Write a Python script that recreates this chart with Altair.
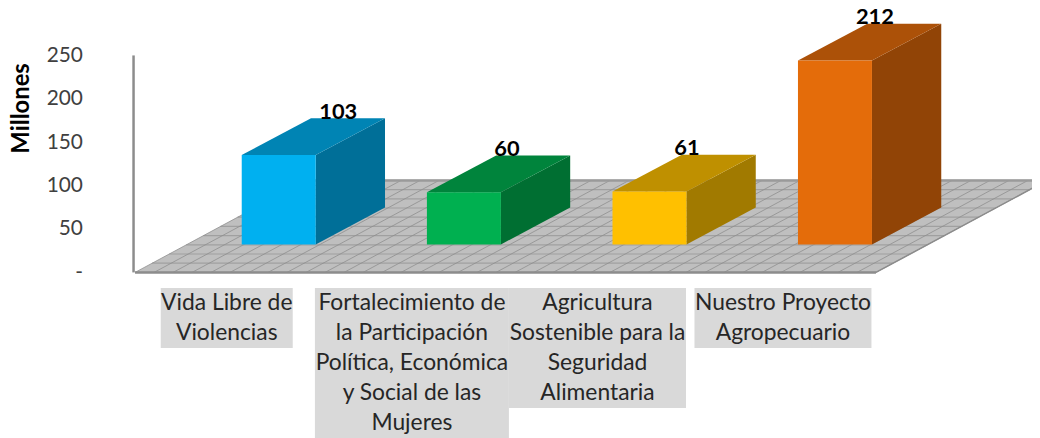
import altair as alt
import pandas as pd

# ---- values
categories = [
    ["Vida Libre de", "Violencias"],
    ["Fortalecimiento de", "la Participación", "Política, Económica", "y Social de las", "Mujeres"],
    ["Agricultura", "Sostenible para la", "Seguridad", "Alimentaria"],
    ["Nuestro Proyecto", "Agropecuario"],
]
values = [103, 60, 61, 212]
front_colors = ["#00b0f0", "#00b050", "#ffc000", "#e46c0a"]
top_colors = ["#0084b4", "#00843c", "#bf9000", "#ac5108"]
side_colors = ["#006f98", "#006f32", "#a17a00", "#914406"]
y_ticks = [0, 50, 100, 150, 200, 250]

# ---- layout of the pseudo-3D box, in scale units (x: px, y: value units)
PX = 0.868                    # pixels per value unit
FONT = "Lato"
S = 1040 / 1048               # the page is fitted to the window with this factor
LEFT = 125
TOP = 6
WIDTH = 907
HEIGHT = 428
YSHIFT = 1.3                  # fine vertical adjustment, pixels
X0, X1 = S * (8 + LEFT), S * (8 + LEFT + WIDTH)
BASE = 28 / PX                # bars stand on the floor, this far above the front edge
FLOOR_DEPTH = 92 / PX
DX, DY = 69.3, 36.8 / PX      # depth of a bar
SLOPE = 171 / FLOOR_DEPTH     # x shift of the floor per value unit
BAR_W = 74
lefts = [241.7, 426.9, 612.5, 798]
label_half = [66, 97, 88.5, 88.5]
value_offset = [96.5, 80, 74.5, 77]
y_of = lambda py: (272 - py) / PX

x_s = alt.Scale(domain=[X0, X1], nice=False, zero=False)
y_s = alt.Scale(domain=[y_of(S * (8 + TOP + HEIGHT) + YSHIFT), y_of(S * (8 + TOP) + YSHIFT)],
                nice=False, zero=False)
y_axis = alt.Axis(
    values=y_ticks, title="Millones", domain=False, ticks=False, grid=False,
    labelFont=FONT, labelFontSize=21, labelColor="#404040", labelPadding=50,
    labelExpr="datum.value === 0 ? '-\u00a0\u00a0\u00a0' : datum.label",
    titleFont=FONT, titleFontSize=24, titleFontWeight="bold", titleColor="#000000",
    titleX=-99, titleY=93)
X = lambda f: alt.X(f, type="quantitative", scale=x_s, axis=None)
Y = lambda f: alt.Y(f, type="quantitative", scale=y_s, axis=y_axis)

# floor
floor = pd.DataFrame({"y": [0, FLOOR_DEPTH],
                      "x": [135, 135 + SLOPE * FLOOR_DEPTH],
                      "x2": [876, 876 + SLOPE * FLOOR_DEPTH]})
floor_l = alt.Chart(floor).mark_area(orient="horizontal", color="#bfbfbf", clip=True).encode(
    x=X("x"), x2="x2", y=Y("y"))

h_rows = []
for k in range(0, 11):
    v = FLOOR_DEPTH * k / 10
    h_rows.append({"x": 135 + SLOPE * v, "x2": 876 + SLOPE * v, "y": v, "y2": v})
h_lines = alt.Chart(pd.DataFrame(h_rows)).mark_rule(color="#a0a0a0", strokeWidth=1.2, clip=True).encode(
    x=X("x"), x2="x2", y=Y("y"), y2="y2")

s_rows = []
for k in range(0, 40):
    x = 135 + 741 * k / 39
    s_rows.append({"x": x, "x2": x + SLOPE * FLOOR_DEPTH, "y": 0, "y2": FLOOR_DEPTH})
s_lines = alt.Chart(pd.DataFrame(s_rows)).mark_rule(color="#8f8f8f", strokeWidth=0.8, clip=True).encode(
    x=X("x"), x2="x2", y=Y("y"), y2="y2")

edge_front = alt.Chart(pd.DataFrame({"x": [135], "x2": [876], "y": [0]})).mark_rule(
    color="#8c8c8c", strokeWidth=2.5).encode(x=X("x"), x2="x2", y=Y("y"))
edge_right = alt.Chart(pd.DataFrame({"x": [876], "x2": [876 + SLOPE * FLOOR_DEPTH], "y": [0], "y2": [FLOOR_DEPTH]})).mark_rule(
    color="#8c8c8c", strokeWidth=1.5, clip=True).encode(x=X("x"), x2="x2", y=Y("y"), y2="y2")
edge_back = alt.Chart(pd.DataFrame({"x": [306], "x2": [X1], "y": [FLOOR_DEPTH]})).mark_rule(
    color="#9a9a9a", strokeWidth=2.5).encode(x=X("x"), x2="x2", y=Y("y"))
wall = alt.Chart(pd.DataFrame({"x": [133.5], "y": [0], "y2": [250]})).mark_rule(
    color="#8c8c8c", strokeWidth=2.5).encode(x=X("x"), y=Y("y"), y2="y2")

# bars
front_df = pd.DataFrame({"x": lefts, "x2": [l + BAR_W for l in lefts], "y": [BASE] * 4,
                         "y2": [BASE + v for v in values], "fill": front_colors})
front = alt.Chart(front_df).mark_rect().encode(
    x=X("x"), x2="x2", y=Y("y"), y2="y2", color=alt.Color("fill:N", scale=None))

side_rows, top_rows = [], []
for l, v, sc, tc in zip(lefts, values, side_colors, top_colors):
    xr = l + BAR_W
    side_rows += [{"x": xr, "y": BASE, "y2": BASE + v, "fill": sc},
                  {"x": xr + DX, "y": BASE + DY, "y2": BASE + v + DY, "fill": sc}]
    top = BASE + v
    top_rows += [{"y": top, "x": l, "x2": xr, "fill": tc},
                 {"y": top + DY, "x": l + DX, "x2": xr + DX, "fill": tc}]
side = alt.Chart(pd.DataFrame(side_rows)).mark_area(orient="vertical").encode(
    x=X("x"), y=Y("y"), y2="y2", color=alt.Color("fill:N", scale=None))
top_f = alt.Chart(pd.DataFrame(top_rows)).mark_area(orient="horizontal").encode(
    y=Y("y"), x=X("x"), x2="x2", color=alt.Color("fill:N", scale=None))

val_df = pd.DataFrame({"x": [l + o for l, o in zip(lefts, value_offset)],
                       "y": [BASE + v + DY for v in values], "t": [str(v) for v in values]})
val_text = alt.Chart(val_df).mark_text(font=FONT, fontSize=22, fontWeight="bold", color="#000000",
                                       baseline="middle", dy=-6.5).encode(
    x=X("x"), y=Y("y"), text="t:N")

# category labels: pale boxes and wrapped lines
centers = [l + BAR_W / 2 - 52 for l in lefts]
line_step = 30 / PX
box_top = y_of(287.5)
rect_df = pd.DataFrame({
    "x": [c - h for c, h in zip(centers, label_half)],
    "x2": [c + h for c, h in zip(centers, label_half)],
    "y": [box_top] * 4,
    "y2": [box_top - len(c) * line_step for c in categories]})
rects = alt.Chart(rect_df).mark_rect(color="#d9d9d9", clip=True).encode(
    x=X("x"), x2="x2", y=Y("y"), y2="y2")
txt_rows = []
for c, lines in zip(centers, categories):
    for i, s in enumerate(lines):
        txt_rows.append({"x": c, "y": y_of(303) - i * line_step, "t": s})
texts = alt.Chart(pd.DataFrame(txt_rows)).mark_text(
    font=FONT, fontSize=23, color="#262626", baseline="middle").encode(
    x=X("x"), y=Y("y"), text="t:N")

chart = alt.layer(
    wall, floor_l, h_lines, s_lines, edge_back, edge_right, edge_front,
    side, top_f, front, rects, texts, val_text).properties(
    width=WIDTH, height=HEIGHT,
    autosize=alt.AutoSizeParams(type="none"),
    padding={"left": LEFT, "top": TOP, "right": 0, "bottom": 0},
).configure_view(stroke=None)

chart.save("out.html", embed_options={"renderer": "svg", "actions": False})
